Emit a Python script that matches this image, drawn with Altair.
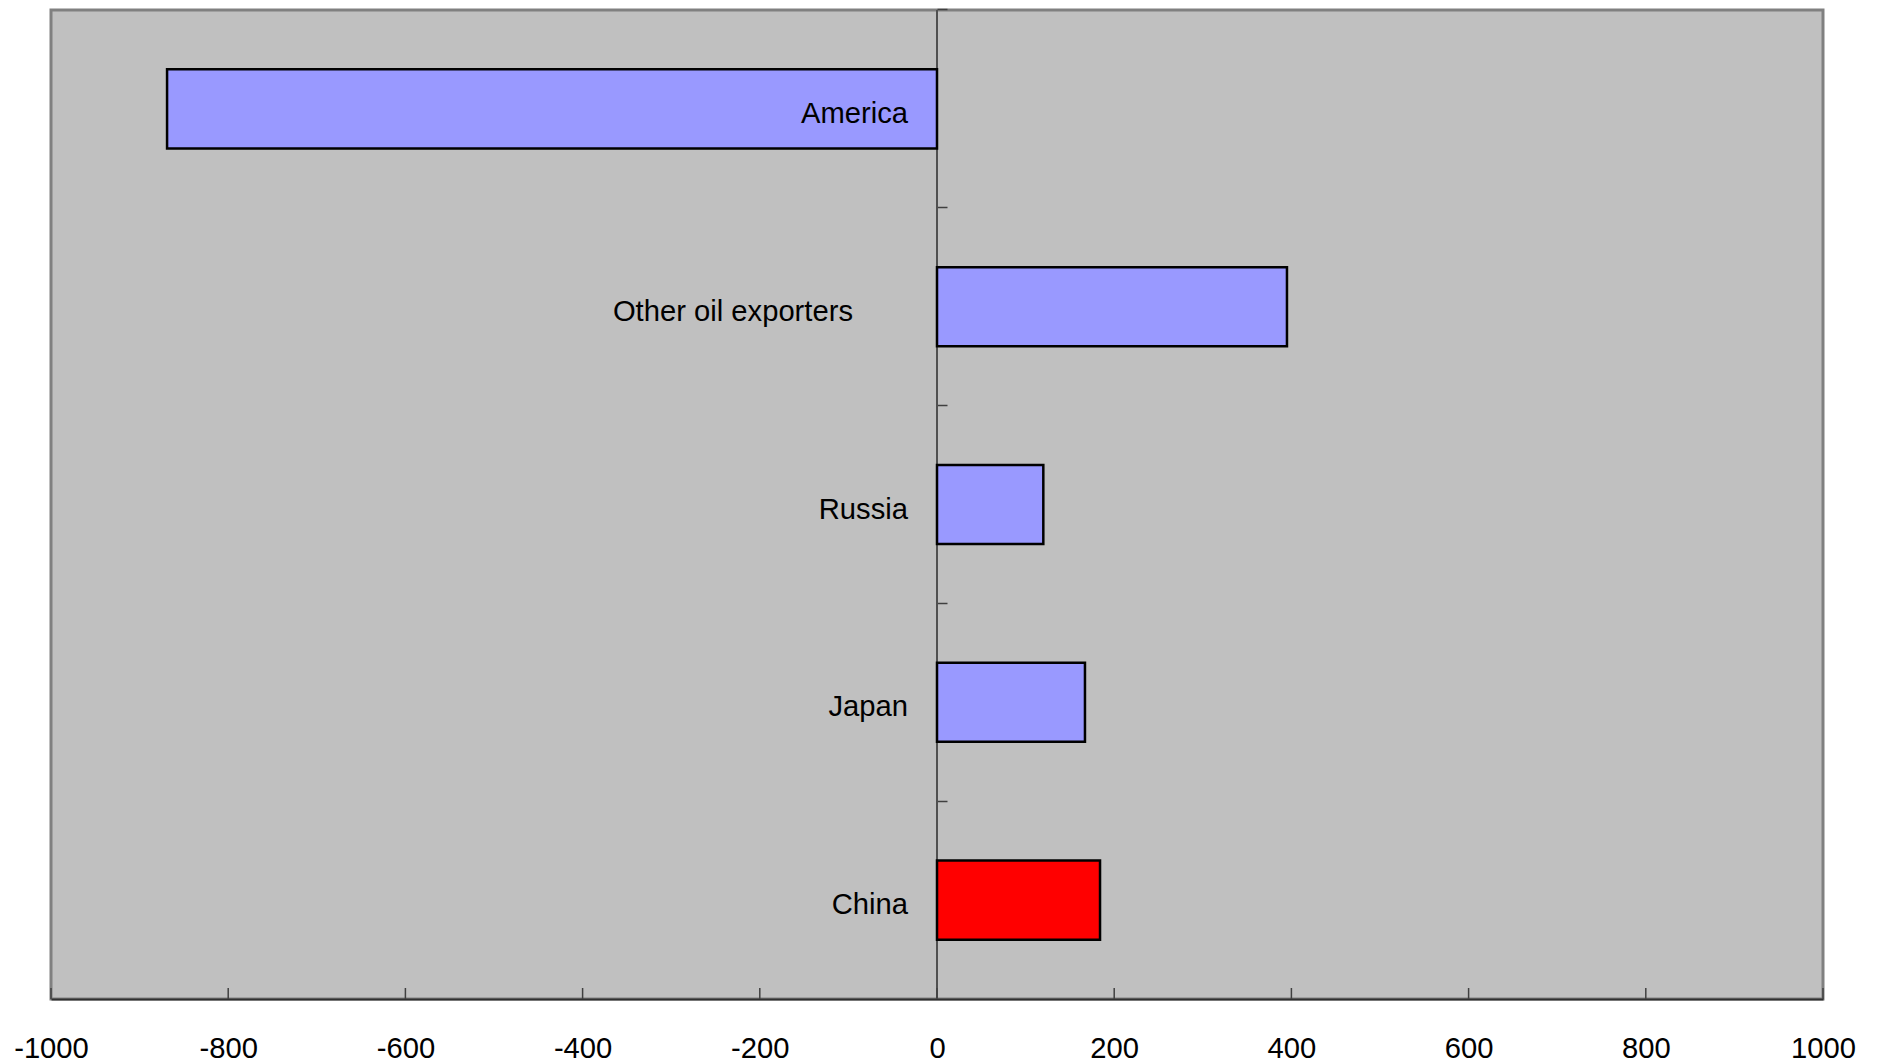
import altair as alt
import pandas as pd

categories = ["America", "Other oil exporters", "Russia", "Japan", "China"]
values = [-869, 395, 120, 167, 184]
x_ticks = [-1000, -800, -600, -400, -200, 0, 200, 400, 600, 800, 1000]

df = pd.DataFrame({"category": categories, "value": values})
ticks_df = pd.DataFrame({"t": x_ticks})

W, H = 1772, 989
FONT = "Liberation Sans"
FS = 29.2

xscale = alt.Scale(domain=[-1000, 1000], nice=False, zero=False)
yscale = alt.Scale(domain=categories, paddingInner=0.6, paddingOuter=0.3)

base = alt.Chart(df)

zero_line = base.mark_rule(color="#505050", strokeWidth=1.5).encode(
    x=alt.datum(0, scale=xscale)
)

bars = base.mark_bar(stroke="black", strokeWidth=2.5).encode(
    x=alt.X(
        "value:Q",
        scale=xscale,
        axis=alt.Axis(
            values=x_ticks,
            ticks=False,
            tickSize=0,
            grid=False,
            domain=True,
            domainColor="#303030",
            domainWidth=2,
            labelFont=FONT,
            labelFontSize=FS,
            labelColor="black",
            labelBaseline="alphabetic",
            labelPadding=58,
            labelFlush=False,
            labelOverlap=False,
            labelExpr="datum.value < 0 ? '-' + abs(datum.value) : '' + datum.value",
            title=None,
        ),
    ),
    y=alt.Y(
        "category:N",
        sort=categories,
        scale=yscale,
        axis=alt.Axis(
            orient="right",
            offset=-W / 2,
            labels=False,
            domain=False,
            ticks=True,
            tickSize=10,
            tickColor="#404040",
            tickWidth=1.5,
            bandPosition=-0.75,
            grid=False,
            title=None,
        ),
    ),
    color=alt.Color(
        "category:N",
        scale=alt.Scale(
            domain=categories,
            range=["#9999FF", "#9999FF", "#9999FF", "#9999FF", "#FF0000"],
        ),
        legend=None,
    ),
)

xtick_marks = alt.Chart(ticks_df).mark_rule(color="#404040", strokeWidth=1.5).encode(
    x=alt.X("t:Q", scale=xscale),
    y=alt.value(H - 11),
    y2=alt.value(H),
)

labels_main = base.transform_filter(
    alt.datum.category != "Other oil exporters"
).mark_text(
    align="right", baseline="middle", dx=-29, dy=5, font=FONT, fontSize=FS, color="black"
).encode(
    x=alt.datum(0, scale=xscale),
    y=alt.Y("category:N", sort=categories, scale=yscale),
    text="category:N",
)

labels_other = base.transform_filter(
    alt.datum.category == "Other oil exporters"
).mark_text(
    align="right", baseline="middle", dx=-84, dy=5, font=FONT, fontSize=FS, color="black"
).encode(
    x=alt.datum(0, scale=xscale),
    y=alt.Y("category:N", sort=categories, scale=yscale),
    text="category:N",
)

chart = (
    alt.layer(zero_line, bars, xtick_marks, labels_main, labels_other)
    .properties(
        width=W,
        height=H,
        autosize=alt.AutoSizeParams(type="none"),
        padding={"left": 51, "top": 10, "right": 56, "bottom": 63},
        background="white",
    )
    .configure_view(fill="#C0C0C0", stroke="#808080", strokeWidth=3)
)

chart.save("out.html", embed_options={"renderer": "svg", "actions": False})
